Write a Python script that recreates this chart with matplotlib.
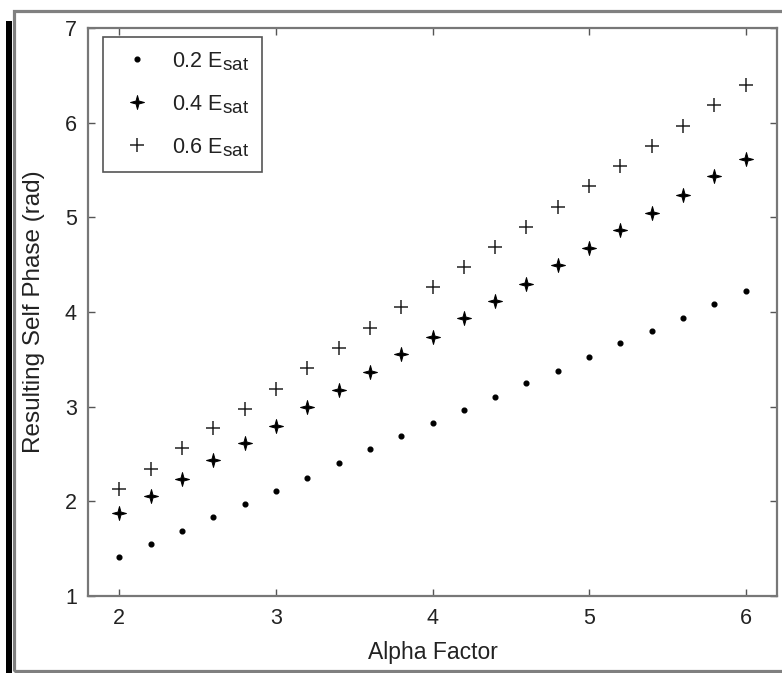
import matplotlib
matplotlib.use("Agg")
import matplotlib.pyplot as plt
from matplotlib.path import Path
from matplotlib.patches import Rectangle
import matplotlib._mathtext as _mt

_mt.SHRINK_FACTOR = 0.88  # larger subscripts, MATLAB-like

plt.rcParams['font.family'] = ['Liberation Sans', 'DejaVu Sans']
plt.rcParams['mathtext.fontset'] = 'custom'
plt.rcParams['mathtext.rm'] = 'Liberation Sans'
plt.rcParams['mathtext.it'] = 'Liberation Sans'

alpha = [2.0, 2.2, 2.4, 2.6, 2.8, 3.0, 3.2, 3.4, 3.6, 3.8, 4.0,
         4.2, 4.4, 4.6, 4.8, 5.0, 5.2, 5.4, 5.6, 5.8, 6.0]
phase_02 = [1.41, 1.55, 1.69, 1.83, 1.97, 2.11, 2.25, 2.40, 2.55, 2.69, 2.83,
            2.97, 3.10, 3.25, 3.38, 3.52, 3.67, 3.80, 3.94, 4.08, 4.22]
phase_04 = [1.88, 2.06, 2.24, 2.44, 2.62, 2.80, 3.00, 3.18, 3.37, 3.56, 3.74,
            3.94, 4.12, 4.30, 4.50, 4.68, 4.87, 5.05, 5.24, 5.44, 5.62]
phase_06 = [2.13, 2.34, 2.56, 2.77, 2.98, 3.19, 3.41, 3.62, 3.83, 4.05, 4.26,
            4.48, 4.69, 4.90, 5.11, 5.33, 5.54, 5.75, 5.96, 6.19, 6.40]
labels = [r'0.2 E$_{\mathrm{sat}}$', r'0.4 E$_{\mathrm{sat}}$', r'0.6 E$_{\mathrm{sat}}$']
xticks = [2, 3, 4, 5, 6]
yticks = [1, 2, 3, 4, 5, 6, 7]

W, H = 782, 673
fig = plt.figure(figsize=(W / 100, H / 100), dpi=100)
fig.patch.set_facecolor('white')

# outer frame and black bar
fig.patches.append(Rectangle((14 / W, 1 - 670.5 / H), (W + 10) / W, (670.5 - 10.5) / H,
                             transform=fig.transFigure, fill=False,
                             edgecolor='#808080', linewidth=2.3, zorder=0))
fig.patches.append(Rectangle((6 / W, 0), 6 / W, 1 - 20.5 / H,
                             transform=fig.transFigure, facecolor='black',
                             edgecolor='none', zorder=1))

ax = fig.add_axes([88 / W, 1 - 596 / H, (777 - 88) / W, (596 - 28) / H])

star = Path.unit_regular_star(4, 0.3)
ax.plot(alpha, phase_02, linestyle='none', marker='o', markersize=3.4,
        color='black', label=labels[0])
ax.plot(alpha, phase_04, linestyle='none', marker=star, markersize=10,
        color='black', markeredgewidth=0.7, label=labels[1])
ax.plot(alpha, phase_06, linestyle='none', marker='+', markersize=10,
        color='#222222', markeredgewidth=1.1, label=labels[2])

ax.set_xlim(1.8, 6.2)
ax.set_ylim(1, 7)
ax.set_xticks(xticks)
ax.set_yticks(yticks)
ax.tick_params(direction='in', length=5, width=1, colors='#555555',
               top=True, right=True, labelsize=15.5, labelcolor='#222222')
ax.tick_params(axis='x', pad=9)
ax.tick_params(axis='y', pad=8)
for s in ax.spines.values():
    s.set_color('#777777')
    s.set_linewidth(1.6)

ax.set_xlabel('Alpha Factor', fontsize=16.5, color='#222222', labelpad=8)
ax.set_ylabel('Resulting Self Phase (rad)', fontsize=17.5, color='#222222', labelpad=14)

leg = ax.legend(loc='upper left', bbox_to_anchor=((103 - 88) / 689, (596 - 37) / 568),
                borderaxespad=0, fancybox=False, fontsize=15.5, handlelength=2.0,
                handletextpad=0.6, borderpad=0.6, labelspacing=0.95,
                edgecolor='#555555', framealpha=1)
leg.get_frame().set_linewidth(1.2)
for t in leg.get_texts():
    t.set_color('#222222')

fig.savefig('out.png', dpi=100, facecolor='white')
